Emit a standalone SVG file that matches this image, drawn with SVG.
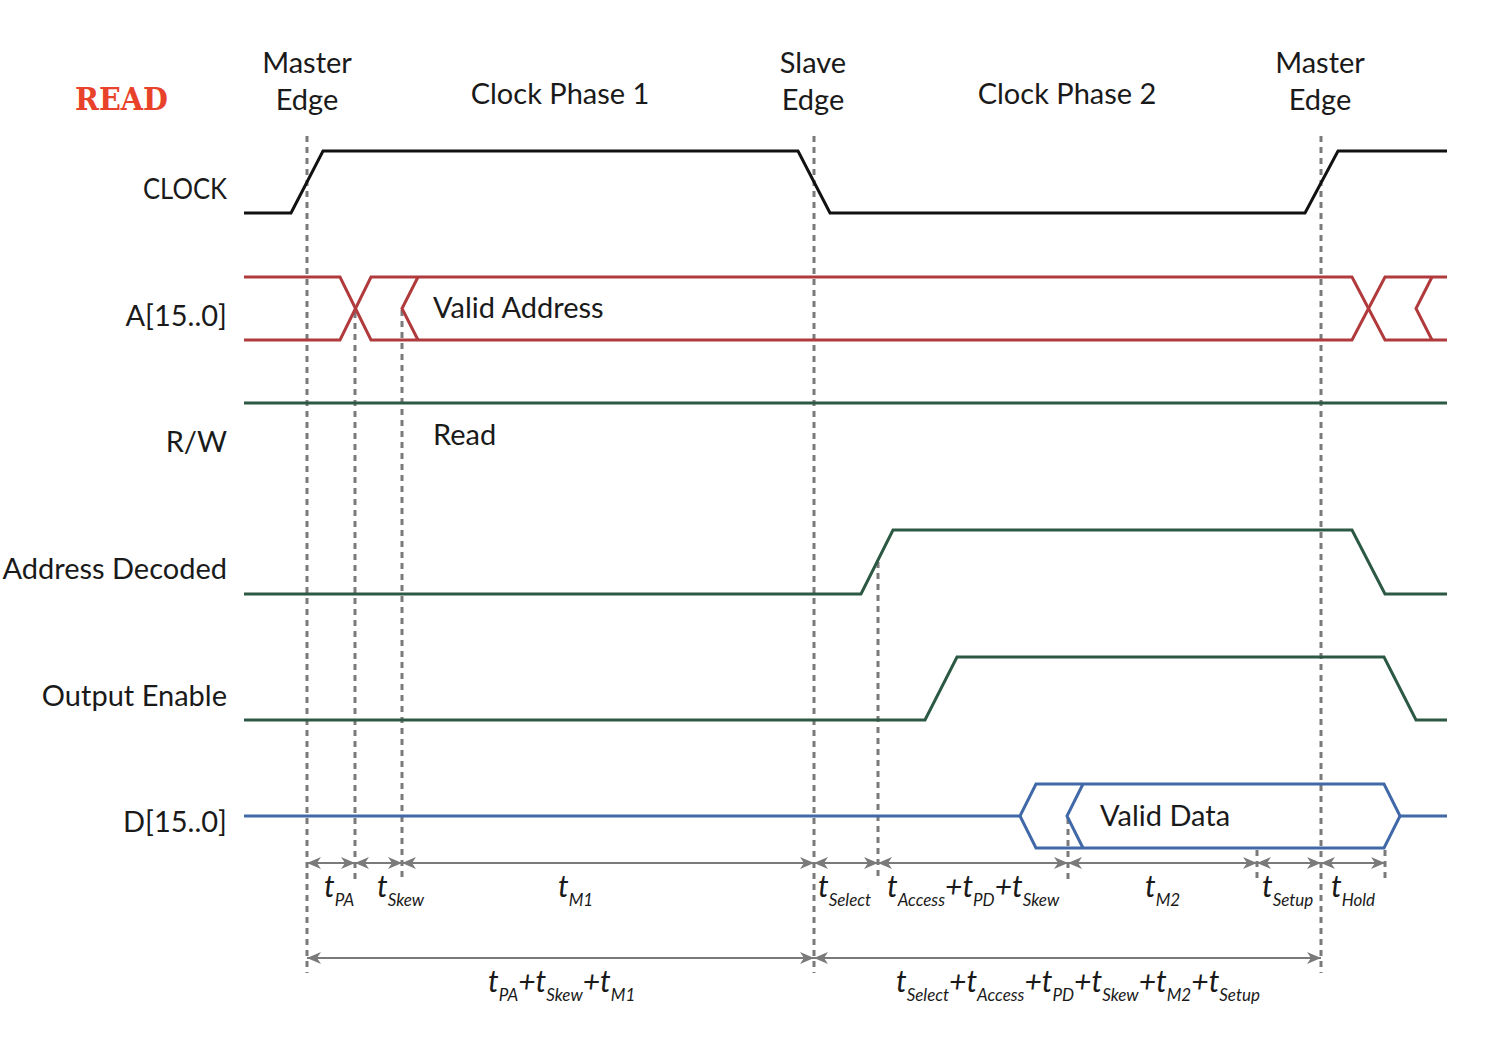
<svg xmlns="http://www.w3.org/2000/svg" width="1486" height="1048" viewBox="0 0 1486 1048">
<defs>
<style>
.lbl{font-family:Lato,"Liberation Sans",sans-serif;font-size:29px;fill:#1a1a1a}
.end{text-anchor:end}
.mid{text-anchor:middle}
.tm{font-family:Lato,"Liberation Sans",sans-serif;font-style:italic;font-size:30px;fill:#1a1a1a}
.sb{font-size:17px}
.sig{fill:none;stroke-width:3;stroke-linejoin:miter}
.clk{stroke:#111}
.red{stroke:#B03A3C}
.grn{stroke:#2C5944}
.blu{stroke:#4169A8}
.guide{stroke:#7a7a7a;stroke-width:3;stroke-dasharray:6 5;fill:none}
.meas{stroke:#7a7a7a;stroke-width:2;fill:none;marker-start:url(#ah);marker-end:url(#ah)}
</style>
<marker id="ah" markerUnits="userSpaceOnUse" markerWidth="14" markerHeight="12" refX="14" refY="6" orient="auto-start-reverse">
<path d="M0,0 L14,6 L0,12 L4,6 z" fill="#7a7a7a"/>
</marker>
</defs>
<rect width="1486" height="1048" fill="#fff"/>

<g id="header">
<text x="75" y="110" font-family="DejaVu Serif,serif" font-weight="bold" font-size="31" fill="#E8432A" textLength="93" lengthAdjust="spacingAndGlyphs">READ</text>
<text class="lbl mid" x="307" y="73">Master</text>
<text class="lbl mid" x="307" y="110">Edge</text>
<text class="lbl mid" x="560" y="104">Clock Phase 1</text>
<text class="lbl mid" x="813" y="73">Slave</text>
<text class="lbl mid" x="813" y="110">Edge</text>
<text class="lbl mid" x="1067" y="104">Clock Phase 2</text>
<text class="lbl mid" x="1320" y="73">Master</text>
<text class="lbl mid" x="1320" y="110">Edge</text>
</g>

<g id="guides">
<line class="guide" x1="307" y1="136" x2="307" y2="973"/>
<line class="guide" x1="814" y1="136" x2="814" y2="973"/>
<line class="guide" x1="1321" y1="136" x2="1321" y2="973"/>
<line class="guide" x1="355" y1="312" x2="355" y2="880"/>
<line class="guide" x1="402" y1="310" x2="402" y2="880"/>
<line class="guide" x1="878" y1="562" x2="878" y2="880"/>
<line class="guide" x1="1068" y1="818" x2="1068" y2="880"/>
<line class="guide" x1="1257" y1="850" x2="1257" y2="880"/>
<line class="guide" x1="1385" y1="850" x2="1385" y2="880"/>
</g>

<g id="clock">
<text class="lbl end" x="227" y="199" textLength="84" lengthAdjust="spacingAndGlyphs">CLOCK</text>
<path class="sig clk" d="M244,213 L291,213 L323,151 L798,151 L830,213 L1305,213 L1338,151 L1447,151"/>
</g>

<g id="address">
<text class="lbl end" x="227" y="326">A[15..0]</text>
<path class="sig red" d="M244,277 L340,277 L371,340 L1352,340 L1385,277 L1447,277"/>
<path class="sig red" d="M244,340 L340,340 L371,277 L1352,277 L1385,340 L1447,340"/>
<path class="sig red" d="M418,277 L402,308.5 L418,340"/>
<path class="sig red" d="M1432,277 L1416,308.5 L1432,340"/>
<text class="lbl" x="433" y="318">Valid Address</text>
</g>

<g id="rw">
<text class="lbl end" x="227" y="452">R/W</text>
<path class="sig grn" d="M244,403 L1447,403"/>
<text class="lbl" x="433" y="445">Read</text>
</g>

<g id="addrdecoded">
<text class="lbl end" x="227" y="579">Address Decoded</text>
<path class="sig grn" d="M244,594 L861,594 L893,530 L1352,530 L1385,594 L1447,594"/>
</g>

<g id="outputenable">
<text class="lbl end" x="227" y="706">Output Enable</text>
<path class="sig grn" d="M244,720 L925,720 L957,657 L1384,657 L1416,720 L1447,720"/>
</g>

<g id="data">
<text class="lbl end" x="227" y="832">D[15..0]</text>
<path class="sig blu" d="M244,816 L1020,816 L1036,784 L1384,784 L1400,816 L1447,816"/>
<path class="sig blu" d="M1020,816 L1036,848 L1384,848 L1400,816"/>
<path class="sig blu" d="M1083,784 L1067,816 L1083,848"/>
<text class="lbl" x="1100" y="826">Valid Data</text>
</g>

<g id="connectors">
<line class="meas" x1="307" y1="863" x2="355" y2="863"/>
<line class="meas" x1="355" y1="863" x2="402" y2="863"/>
<line class="meas" x1="402" y1="863" x2="814" y2="863"/>
<line class="meas" x1="814" y1="863" x2="878" y2="863"/>
<line class="meas" x1="878" y1="863" x2="1068" y2="863"/>
<line class="meas" x1="1068" y1="863" x2="1257" y2="863"/>
<line class="meas" x1="1257" y1="863" x2="1321" y2="863"/>
<line class="meas" x1="1321" y1="863" x2="1385" y2="863"/>
<line class="meas" x1="307" y1="958" x2="814" y2="958"/>
<line class="meas" x1="814" y1="958" x2="1321" y2="958"/>
</g>

<g id="timings">
<text class="tm" x="324" y="897">t<tspan class="sb" dy="9">PA</tspan></text>
<text class="tm" x="377" y="897">t<tspan class="sb" dy="9">Skew</tspan></text>
<text class="tm" x="558" y="897">t<tspan class="sb" dy="9">M1</tspan></text>
<text class="tm" x="818" y="897">t<tspan class="sb" dy="9">Select</tspan></text>
<text class="tm" x="887" y="897">t<tspan class="sb" dy="9">Access</tspan><tspan dy="-9">+t</tspan><tspan class="sb" dy="9">PD</tspan><tspan dy="-9">+t</tspan><tspan class="sb" dy="9">Skew</tspan></text>
<text class="tm" x="1145" y="897">t<tspan class="sb" dy="9">M2</tspan></text>
<text class="tm" x="1262" y="897">t<tspan class="sb" dy="9">Setup</tspan></text>
<text class="tm" x="1331" y="897">t<tspan class="sb" dy="9">Hold</tspan></text>
<text class="tm" x="488" y="992">t<tspan class="sb" dy="9">PA</tspan><tspan dy="-9">+t</tspan><tspan class="sb" dy="9">Skew</tspan><tspan dy="-9">+t</tspan><tspan class="sb" dy="9">M1</tspan></text>
<text class="tm" x="896" y="992">t<tspan class="sb" dy="9">Select</tspan><tspan dy="-9">+t</tspan><tspan class="sb" dy="9">Access</tspan><tspan dy="-9">+t</tspan><tspan class="sb" dy="9">PD</tspan><tspan dy="-9">+t</tspan><tspan class="sb" dy="9">Skew</tspan><tspan dy="-9">+t</tspan><tspan class="sb" dy="9">M2</tspan><tspan dy="-9">+t</tspan><tspan class="sb" dy="9">Setup</tspan></text>
</g>
</svg>
